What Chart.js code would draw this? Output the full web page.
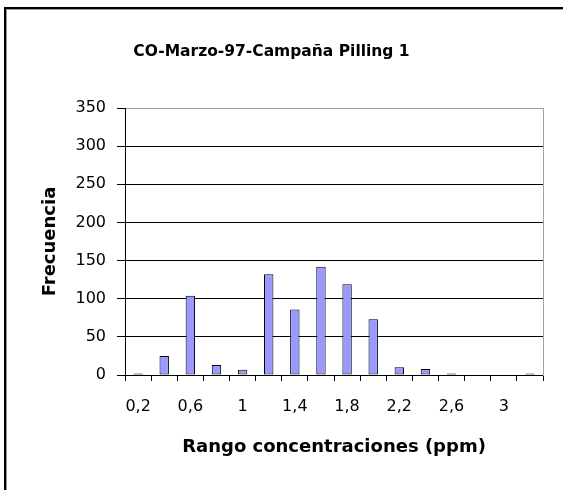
<!DOCTYPE html>
<html>
<head>
<meta charset="utf-8">
<title>CO-Marzo-97-Campaña Pilling 1</title>
<script src="https://cdn.jsdelivr.net/npm/chart.js@4/dist/chart.umd.min.js"></script>
<style>
    html, body { margin: 0; padding: 0; background: #fff; overflow: hidden; }
    #graphique-co { display: block; }
</style>
</head>
<body>
<canvas id="graphique-co" width="563" height="490"></canvas>
<script>
const titre = "CO-Marzo-97-Campaña Pilling 1";
const titreX = "Rango concentraciones (ppm)";
const titreY = "Frecuencia";

// Rangos de concentración (ppm)
const rangos = ["0,2", "0,4", "0,6", "0,8", "1", "1,2", "1,4", "1,6", "1,8", "2", "2,2", "2,4", "2,6", "2,8", "3", "3,2"];
// Frecuencia por rango
const frecuencias = [2, 25, 104, 13, 7, 132, 86, 142, 119, 73, 10, 8, 2, 0, 0, 2];
const yMax = 350;
const yPaso = 50;

Chart.defaults.font.family = "'DejaVu Sans'";
Chart.defaults.color = "#000";

// Cadre extérieur (bord haut et gauche seulement, comme la capture)
const cadre = {
    id: "cadre",
    beforeDraw(chart) {
        const ctx = chart.ctx;
        ctx.save();
        ctx.fillStyle = "#fff";
        ctx.fillRect(0, 0, chart.width, chart.height);
        ctx.fillStyle = "#000";
        ctx.fillRect(4, 7, chart.width - 4, 2);
        ctx.fillRect(4, 7, 2, chart.height - 7);
        ctx.fillStyle = "#999";
        ctx.fillRect(6, 9, chart.width - 6, 1);
        ctx.fillRect(6, 9, 1, chart.height - 9);
        ctx.restore();
    }
};

const data = {
    labels: rangos,
    datasets: [{
        label: titreY,
        data: frecuencias,
        backgroundColor: "#9999ff",
        borderColor: "#000",
        borderWidth: 1,
        borderSkipped: false,
        categoryPercentage: 1,
        barPercentage: 0.36,
        yAxisID: "y"
    }]
};

const config = {
    type: "bar",
    data: data,
    plugins: [cadre],
    options: {
        responsive: false,
        animation: false,
        devicePixelRatio: 1,
        layout: {
            padding: { left: 0, right: 20, top: 0, bottom: 28.2 }
        },
        plugins: {
            legend: { display: false },
            tooltip: { enabled: false },
            title: {
                display: true,
                text: titre,
                color: "#000",
                font: { size: 15.5, weight: "bold", lineHeight: 1.2 },
                padding: { top: 43, bottom: 46.4 }
            }
        },
        scales: {
            x: {
                offset: true,
                grid: {
                    offset: true,
                    drawOnChartArea: false,
                    drawTicks: true,
                    tickLength: 6,
                    color: "#000"
                },
                border: { color: "#000", width: 1 },
                ticks: {
                    autoSkip: false,
                    maxRotation: 0,
                    minRotation: 0,
                    padding: 16,
                    font: { size: 16 },
                    callback: (val, i) => i % 2 === 0 ? rangos[i] : ""
                },
                title: {
                    display: true,
                    text: titreX,
                    font: { size: 18, weight: "bold", lineHeight: 1.2 },
                    padding: { top: 4, bottom: 4 }
                }
            },
            y: {
                position: "left",
                min: 0,
                max: yMax,
                grid: {
                    color: (ctx) => ctx.tick && ctx.tick.value === yMax ? "#a0a0a0" : "#000",
                    tickColor: "#000",
                    tickLength: 8,
                    lineWidth: 1
                },
                border: { color: "#000", width: 1 },
                ticks: {
                    stepSize: yPaso,
                    padding: 11,
                    font: { size: 16 }
                },
                title: {
                    display: true,
                    text: titreY,
                    font: { size: 18, weight: "bold", lineHeight: 1.2 },
                    padding: { top: 39.2, bottom: 3.7 }
                }
            },
            y2: {
                position: "right",
                display: true,
                grid: { drawOnChartArea: false, drawTicks: false },
                border: { color: "#a0a0a0", width: 1 },
                ticks: { display: false }
            }
        }
    }
};

new Chart(document.getElementById("graphique-co"), config);
</script>
</body>
</html>
